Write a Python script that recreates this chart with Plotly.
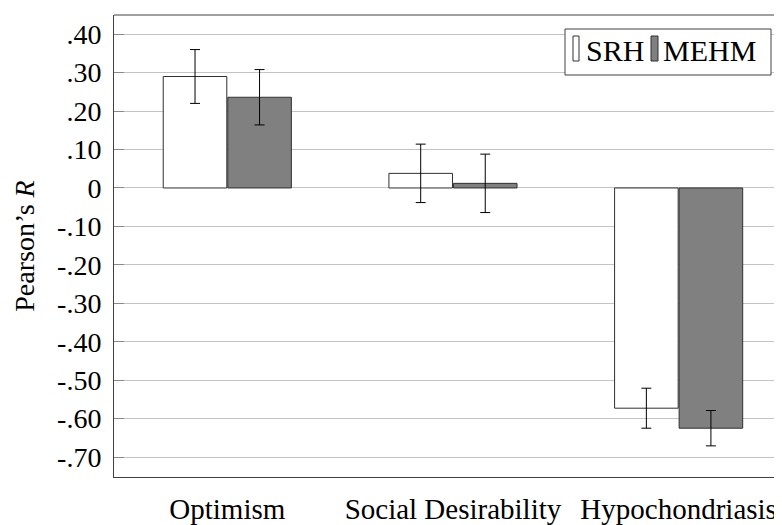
import plotly.graph_objects as go

categories = ["Optimism", "Social Desirability", "Hypochondriasis"]
srh_values = [0.290, 0.038, -0.573]
srh_errors = [0.070, 0.076, 0.052]
mehm_values = [0.236, 0.012, -0.625]
mehm_errors = [0.072, 0.076, 0.046]
tick_vals = [0.4, 0.3, 0.2, 0.1, 0.0, -0.1, -0.2, -0.3, -0.4, -0.5, -0.6, -0.7]
tick_text = [".40", ".30", ".20", ".10", "0", "-.10", "-.20", "-.30", "-.40", "-.50", "-.60", "-.70"]

FONT = "Liberation Serif"
x_idx = list(range(len(categories)))

fig = go.Figure()
fig.add_trace(go.Bar(
    x=x_idx, y=srh_values, name="SRH",
    marker=dict(color="white", line=dict(color="#303030", width=1)),
    error_y=dict(type="data", array=srh_errors, color="black", thickness=1, width=5),
    showlegend=False,
))
fig.add_trace(go.Bar(
    x=x_idx, y=mehm_values, name="MEHM",
    marker=dict(color="#808080", line=dict(color="#303030", width=1)),
    error_y=dict(type="data", array=mehm_errors, color="black", thickness=1, width=5),
    showlegend=False,
))

# page has an 8px body margin; figure is sized to fill the window from there
OFF = 8
W, H = 782 - OFF, 525 - OFF
plot_left, plot_right, plot_top, plot_bottom = 114, 782, 15, 477
ml, mr, mt, mb = plot_left - OFF, 0, plot_top - OFF, 525 - plot_bottom
pw, ph = plot_right - plot_left, plot_bottom - plot_top
def px(x):
    return (x - plot_left) / pw
def py(y):
    return 1 - (y - plot_top) / ph

shapes = [
    dict(type="rect", xref="paper", yref="paper", x0=px(565), x1=px(771), y0=py(75), y1=py(29),
         line=dict(color="#404040", width=1), fillcolor="white", layer="above"),
    dict(type="rect", xref="paper", yref="paper", x0=px(573), x1=px(579), y0=py(61), y1=py(36),
         line=dict(color="#303030", width=1), fillcolor="white", layer="above"),
    dict(type="rect", xref="paper", yref="paper", x0=px(651), x1=px(658), y0=py(61), y1=py(36),
         line=dict(color="#303030", width=1), fillcolor="#808080", layer="above"),
    dict(type="line", xref="paper", yref="paper", x0=0, x1=1, y0=1, y1=1,
         line=dict(color="#404040", width=1)),
]
annotations = [
    dict(xref="paper", yref="paper", x=px(584), y=py(50), text="SRH", showarrow=False,
         xanchor="left", yanchor="middle", font=dict(family=FONT, size=30, color="black")),
    dict(xref="paper", yref="paper", x=px(661), y=py(50), text="MEHM", showarrow=False,
         xanchor="left", yanchor="middle", font=dict(family=FONT, size=30, color="black")),
]

fig.update_layout(
    width=W, height=H,
    margin=dict(l=ml, r=mr, t=mt, b=mb, autoexpand=False),
    paper_bgcolor="white", plot_bgcolor="white",
    barmode="group", bargap=0.428, bargroupgap=0.015,
    shapes=shapes, annotations=annotations,
)
fig.update_xaxes(
    range=[-0.502, 2.458],
    tickvals=x_idx, ticktext=categories,
    showgrid=False, zeroline=False, ticks="",
    ticklabelstandoff=6,
    showline=True, linecolor="#404040", linewidth=1, mirror=False,
    tickfont=dict(family=FONT, size=29, color="black"),
)
fig.update_yaxes(
    range=[-0.752, 0.450],
    tickvals=tick_vals, ticktext=tick_text,
    showgrid=True, gridcolor="#c4c4c4", gridwidth=1, zeroline=False,
    ticks="inside", ticklen=10, tickcolor="#8a8a8a", tickwidth=1,
    ticklabelstandoff=6,
    showline=True, linecolor="#404040", linewidth=1,
    tickfont=dict(family=FONT, size=28, color="black"),
    title=dict(text="Pearson’s <i>R</i>", font=dict(family=FONT, size=28, color="black"), standoff=14),
)

fig.write_html("out.html")
